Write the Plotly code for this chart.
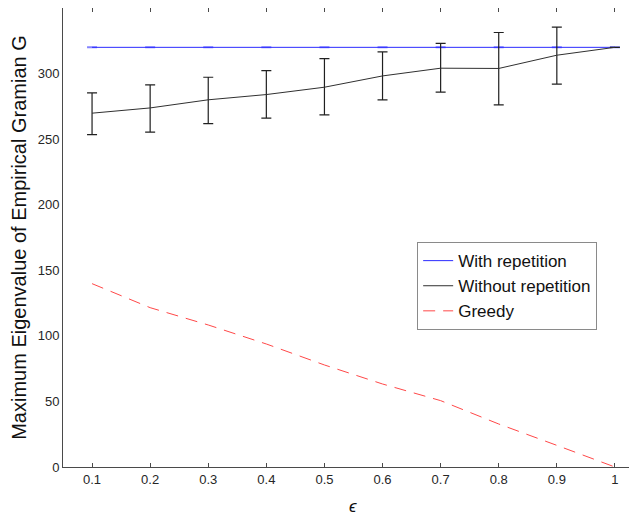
import plotly.graph_objects as go

eps = [0.1, 0.2, 0.3, 0.4, 0.5, 0.6, 0.7, 0.8, 0.9, 1.0]
with_rep = [320, 320, 320, 320, 320, 320, 320, 320, 320, 320]
with_rep_err = [0, 0, 0, 0, 0, 0, 0, 0, 0, 0]
without_rep = [269.8, 273.8, 280.0, 284.0, 289.6, 298.2, 304.1, 303.9, 314.0, 320.0]
without_up = [285.3, 291.4, 297.2, 302.3, 311.4, 316.6, 323.1, 331.3, 335.4, 320.0]
without_lo = [253.5, 255.3, 261.9, 266.0, 268.5, 280.0, 285.8, 276.1, 291.9, 320.0]
greedy = [139.8, 121.5, 108.3, 93.8, 77.8, 63.3, 50.6, 32.8, 16.5, 0.0]
x_ticktext = ["0.1", "0.2", "0.3", "0.4", "0.5", "0.6", "0.7", "0.8", "0.9", "1"]
y_tickvals = [0, 50, 100, 150, 200, 250, 300, 350]

err_plus = [u - m for u, m in zip(without_up, without_rep)]
err_minus = [m - l for m, l in zip(without_rep, without_lo)]

FONT = "Liberation Sans, Arial, Helvetica, sans-serif"
AX = "#4a4a4a"
TXT = "#262626"

fig = go.Figure()
fig.add_trace(go.Scatter(
    x=eps, y=with_rep, mode="lines", name="With repetition",
    line=dict(color="#2b2bff", width=1),
    error_y=dict(type="data", array=with_rep_err, color="rgba(90,90,255,0.75)", thickness=2, width=5),
))
fig.add_trace(go.Scatter(
    x=eps, y=without_rep, mode="lines", name="Without repetition",
    line=dict(color="#303030", width=1),
    error_y=dict(type="data", symmetric=False, array=err_plus, arrayminus=err_minus,
                 color="#202020", thickness=1.2, width=5),
))
fig.add_trace(go.Scatter(
    x=eps, y=greedy, mode="lines", name="Greedy",
    line=dict(color="#ff4848", width=1, dash="12px,8px"),
))

fig.update_layout(
    width=629, height=507,
    margin=dict(l=55, r=0, t=0, b=48),
    paper_bgcolor="white", plot_bgcolor="white",
    font=dict(family=FONT, color=TXT),
    showlegend=True,
    legend=dict(x=0.617, y=0.49, xanchor="left", yanchor="top",
                bgcolor="white", bordercolor="#8a8a8a", borderwidth=1,
                font=dict(size=17, color="#111111"), tracegroupgap=0),
    xaxis=dict(range=[0.05, 1.038], tickvals=eps, ticktext=x_ticktext,
               ticks="inside", ticklen=4, tickcolor=AX, showline=True, linecolor=AX,
               linewidth=1, mirror="ticks", showgrid=False, zeroline=False,
               tickfont=dict(size=13, color=TXT)),
    yaxis=dict(range=[0, 350], tickvals=y_tickvals,
               ticks="", showline=True, linecolor=AX,
               linewidth=1, mirror=False, showgrid=False, zeroline=False,
               tickfont=dict(size=13, color=TXT),
               title=dict(text="Maximum Eigenvalue of Empirical Gramian G",
                          font=dict(size=20, color="#111111"), standoff=5)),
)
fig.add_annotation(x=0.55, y=0, xref="x", yref="paper", yshift=-28, yanchor="top",
                   text="<i>ϵ</i>", showarrow=False, font=dict(size=17, color="#111111"))
fig.write_html("out.html")
